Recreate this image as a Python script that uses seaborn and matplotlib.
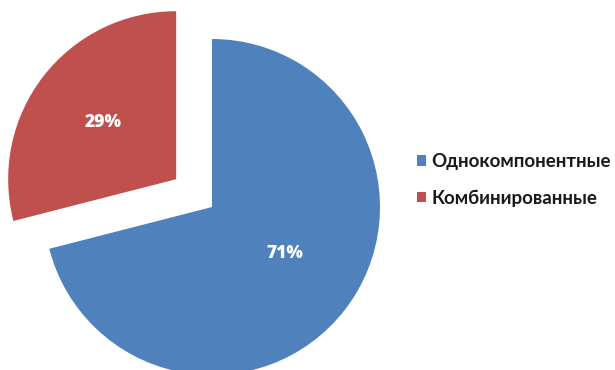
import matplotlib
matplotlib.use("Agg")
import matplotlib.pyplot as plt
import seaborn as sns
from matplotlib.patches import Patch

categories = ["Однокомпонентные", "Комбинированные"]
shares = [71, 29]
explode = [0.0, 0.27]

sns.set_theme(style="white")
plt.rcParams["font.family"] = ["Lato", "DejaVu Sans"]
colors = ["#4F81BD", "#C0504D"]

fig = plt.figure(figsize=(6.15, 3.70), dpi=100)
ax = fig.add_axes([0, 0, 1, 1])

wedges, texts, autotexts = ax.pie(
    shares,
    colors=colors,
    explode=explode,
    startangle=90,
    counterclock=False,
    autopct=lambda p: f"{p:.0f}%",
    pctdistance=0.55,
    radius=1.0,
    wedgeprops=dict(linewidth=0),
    textprops=dict(color="white", fontsize=12.5, fontweight="heavy",
                   family=["Open Sans", "DejaVu Sans"]),
)
# nudge the large slice's percentage a little higher
x, y = autotexts[0].get_position()
autotexts[0].set_position((x, y + 0.06))

# 1 data unit = 168 px, pie centre at (212, 207) px from the top-left
r_px = 168.0
cx, cy = 212.0, 207.0
ax.set_xlim(-cx / r_px, (615 - cx) / r_px)
ax.set_ylim(-(370 - cy) / r_px, cy / r_px)
ax.set_aspect("equal")
ax.axis("off")

handles = [Patch(facecolor=c, edgecolor="none") for c in colors]
leg = fig.legend(
    handles, categories,
    loc="center left",
    bbox_to_anchor=(417 / 615, 1 - 180 / 370),
    frameon=False,
    borderpad=0,
    borderaxespad=0,
    handlelength=0.5,
    handleheight=0.5,
    handletextpad=0.25,
    labelspacing=1.0,
    prop=dict(size=13.5, weight="bold"),
    labelcolor="#1a1a1a",
)

fig.savefig("out.png", dpi=100, facecolor="white")
